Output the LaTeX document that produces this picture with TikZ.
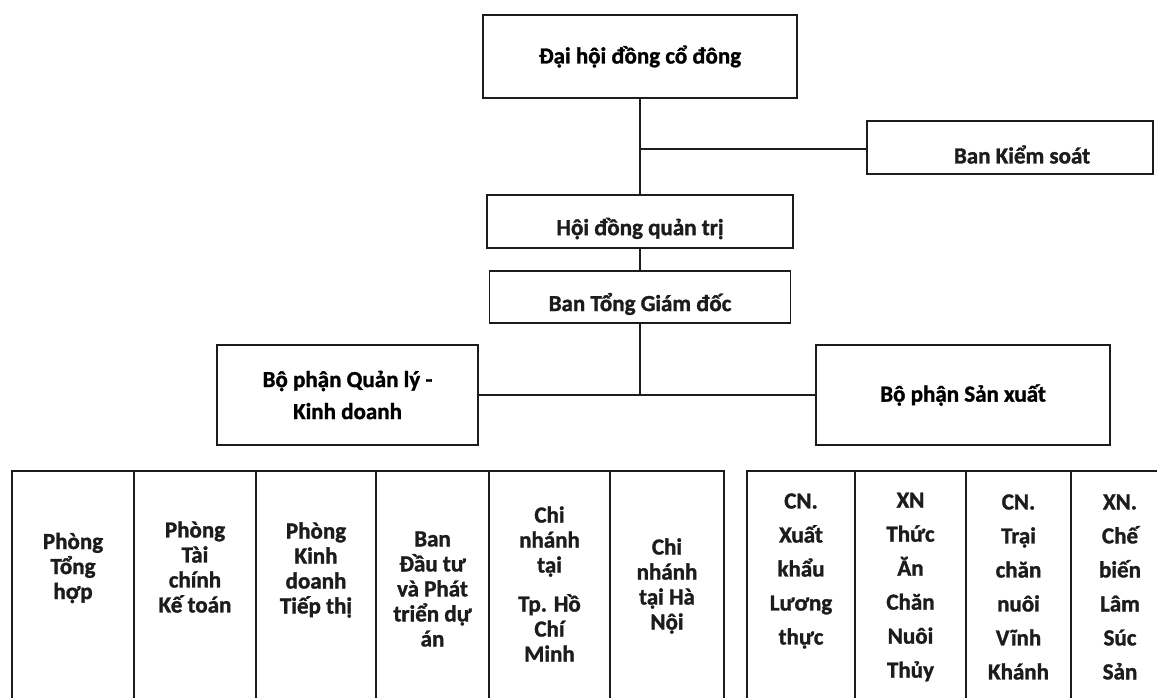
\documentclass[tikz,border=0pt]{standalone}
\usepackage{fontspec}
\setmainfont{Carlito}[BoldFeatures={FakeBold=1.3}]
\definecolor{ink}{HTML}{1C1C1C}
\tikzset{
  box/.style={draw=ink, line width=1.6pt, inner sep=0pt, align=center,
    font=\bfseries\fontsize{23}{25}\selectfont},
  conn/.style={draw=ink, line width=1.6pt},
  colbox/.style={draw=ink, line width=1.6pt, inner sep=0pt, minimum height=227.5pt},
  lt/.style={align=center, inner sep=0pt, font=\bfseries\fontsize{23}{25}\selectfont, text=ink},
  rt/.style={align=center, inner sep=0pt, font=\bfseries\fontsize{23}{34}\selectfont, text=ink}
}
\begin{document}
\begin{tikzpicture}[x=1pt,y=-1pt]
\useasboundingbox (0,0) rectangle (1157,698);
\fill[white] (0,0) rectangle (1157,698);

% top boxes
\node[box, minimum width=314pt, minimum height=83pt] (dhdcd) at (640,56.5) {Đại hội đồng cổ đông};
\node[box, minimum width=286pt, minimum height=53pt,
  label={[lt, xshift=12pt, yshift=-7pt]center:Ban Kiểm soát}] (bks) at (1010,147.5) {};
\node[box, minimum width=306pt, minimum height=53pt,
  label={[lt, yshift=-7pt]center:Hội đồng quản trị}] (hdqt) at (640,221.5) {};
\node[box, minimum width=301pt, minimum height=52pt,
  label={[lt, yshift=-7pt]center:Ban Tổng Giám đốc}] (btgd) at (640,297) {};
\node[box, minimum width=261pt, minimum height=100pt,
  font=\bfseries\fontsize{23}{32}\selectfont] (bpql) at (347.5,395) {Bộ phận Quản lý -\\Kinh doanh};
\node[box, minimum width=294pt, minimum height=100pt] (bpsx) at (963,395) {Bộ phận Sản xuất};

% connectors
\coordinate (j1) at (dhdcd.south |- 0,149);
\coordinate (j2) at (btgd.south |- bpql.east);
\draw[conn] (dhdcd.south) -- (hdqt.north);
\draw[conn] (j1) -- (bks.west |- j1);
\draw[conn] (hdqt.south) -- (btgd.north);
\draw[conn] (btgd.south) -- (j2);
\draw[conn] (bpql.east) -- (bpsx.west);

% bottom-left columns
\node[colbox, minimum width=122pt, label={[lt, yshift=16.75pt]center:{Phòng\\Tổng\\hợp}}] (c1) at (73,584.75) {};
\node[colbox, minimum width=122pt, label={[lt, yshift=17.75pt]center:{Phòng\\Tài\\chính\\Kế toán}}] (c2) at (195,584.75) {};
\node[colbox, minimum width=120pt, label={[lt, yshift=14.75pt]center:{Phòng\\Kinh\\doanh\\Tiếp thị}}] (c3) at (316,584.75) {};
\node[colbox, minimum width=113pt, label={[lt, yshift=-4.25pt]center:{Ban\\Đầu tư\\và Phát\\triển dự\\án}}] (c4) at (432.5,584.75) {};
\node[colbox, minimum width=121pt, label={[lt, yshift=0.75pt]center:{Chi\\nhánh\\tại\\[14pt]Tp. Hồ\\Chí\\Minh}}] (c5) at (549.5,584.75) {};
\node[colbox, minimum width=114pt, label={[lt, yshift=-1.25pt]center:{Chi\\nhánh\\tại Hà\\Nội}}] (c6) at (667,584.75) {};

% bottom-right columns
\node[colbox, minimum width=108pt, label={[rt, yshift=13.75pt]center:{CN.\\Xuất\\khẩu\\Lương\\thực}}] (r1) at (801,584.75) {};
\node[colbox, minimum width=111pt, label={[rt, yshift=-2.25pt]center:{XN\\Thức\\Ăn\\Chăn\\Nuôi\\Thủy}}] (r2) at (910.5,584.75) {};
\node[colbox, minimum width=105pt, label={[rt, yshift=-2.25pt]center:{CN.\\Trại\\chăn\\nuôi\\Vĩnh\\Khánh}}] (r3) at (1018.5,584.75) {};
\node[colbox, minimum width=98pt, label={[rt, yshift=-2.25pt]center:{XN.\\Chế\\biến\\Lâm\\Súc\\Sản}}] (r4) at (1120,584.75) {};
\end{tikzpicture}
\end{document}
